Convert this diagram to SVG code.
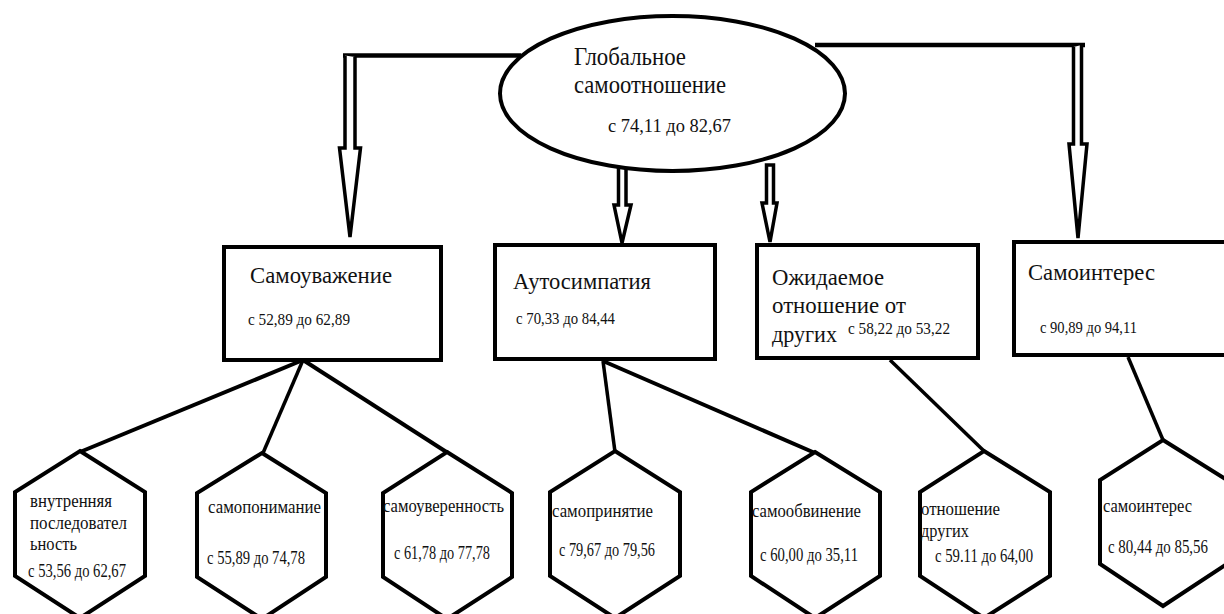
<svg xmlns="http://www.w3.org/2000/svg" width="1224" height="614" viewBox="0 0 1224 614">
<style>
.sh{fill:#fff;stroke:#000;stroke-width:4}
.ln{stroke:#000;stroke-width:3.5;fill:none}
.ar{fill:#fff;stroke:#000;stroke-width:3.5;stroke-linejoin:miter}
text{font-family:"Liberation Serif","Times New Roman",serif;fill:#111}
.t1{font-size:26px}
.t2{font-size:24px}
.t3{font-size:19px}
.n1{font-size:18.5px}
.n2{font-size:16px}
.n3{font-size:18px}
</style>
<rect width="1224" height="614" fill="#fff"/>
<g id="connectors">
<line class="ln" x1="343" y1="55.5" x2="521" y2="55.5" style="stroke-width:4.5"/>
<path class="ar" d="M345,55.5 V148 H339.5 L350,237 L360.5,148 H355 V57"/>
<line class="ln" x1="815" y1="45" x2="1085" y2="45" style="stroke-width:4.5"/>
<path class="ar" d="M1073.5,47 V144 H1069 L1078,238 L1087,144 H1081.5 V45"/>
<path class="ar" d="M618.5,166 V205 H614 L622,243 L631,205 H626 V166 Z"/>
<path class="ar" d="M766.5,165 V203 H762 L770,242 L777,203 H773.5 V165 Z"/>
<line class="ln" x1="303" y1="360" x2="80" y2="452" style="stroke-width:4"/>
<line class="ln" x1="303" y1="360" x2="263" y2="453"/>
<line class="ln" x1="303" y1="360" x2="448" y2="453" style="stroke-width:4"/>
<line class="ln" x1="603" y1="361" x2="615" y2="452"/>
<line class="ln" x1="603" y1="361" x2="815" y2="453" style="stroke-width:4"/>
<line class="ln" x1="890" y1="360" x2="984" y2="451"/>
<line class="ln" x1="1128" y1="357" x2="1163" y2="440"/>
</g>
<g id="global">
<ellipse class="sh" cx="672.5" cy="93.5" rx="172.5" ry="77.5"/>
<text class="t1" x="574" y="65" textLength="112" lengthAdjust="spacingAndGlyphs">Глобальное</text>
<text class="t1" x="574" y="93" textLength="152" lengthAdjust="spacingAndGlyphs">самоотношение</text>
<text class="n1" x="608" y="132" textLength="123" lengthAdjust="spacingAndGlyphs">с 74,11 до 82,67</text>
</g>
<g id="box-samouvazhenie">
<rect class="sh" x="224" y="247" width="217" height="113"/>
<text class="t2" x="250" y="283" textLength="142" lengthAdjust="spacingAndGlyphs">Самоуважение</text>
<text class="n2" x="248" y="325" textLength="102" lengthAdjust="spacingAndGlyphs">с 52,89 до 62,89</text>
</g>
<g id="box-autosimpatiya">
<rect class="sh" x="495" y="245" width="220" height="114"/>
<text class="t2" x="513" y="289" textLength="138" lengthAdjust="spacingAndGlyphs">Аутосимпатия</text>
<text class="n2" x="516" y="324" textLength="99" lengthAdjust="spacingAndGlyphs">с 70,33 до 84,44</text>
</g>
<g id="box-ozhidaemoe">
<rect class="sh" x="757" y="245" width="221" height="113"/>
<text class="t2" x="772" y="285" textLength="112" lengthAdjust="spacingAndGlyphs">Ожидаемое</text>
<text class="t2" x="772" y="313" textLength="134" lengthAdjust="spacingAndGlyphs">отношение от</text>
<text class="t2" x="772" y="342" textLength="65" lengthAdjust="spacingAndGlyphs">других</text>
<text class="n2" x="848" y="334" textLength="102" lengthAdjust="spacingAndGlyphs">с 58,22 до 53,22</text>
</g>
<g id="box-samointeres">
<rect class="sh" x="1014" y="242" width="220" height="113"/>
<text class="t2" x="1028" y="280" textLength="127" lengthAdjust="spacingAndGlyphs">Самоинтерес</text>
<text class="n2" x="1040" y="333" textLength="97" lengthAdjust="spacingAndGlyphs">с 90,89 до 94,11</text>
</g>
<g id="hex-posledovatelnost">
<polygon class="sh" points="80,451 145,492 145,576 80,618 15,576 15,492"/>
<text class="t3" x="30" y="507" textLength="82" lengthAdjust="spacingAndGlyphs">внутренняя</text>
<text class="t3" x="30" y="529" textLength="97" lengthAdjust="spacingAndGlyphs">последовател</text>
<text class="t3" x="30" y="550" textLength="47" lengthAdjust="spacingAndGlyphs">ьность</text>
<text class="n3" x="28" y="577" textLength="98" lengthAdjust="spacingAndGlyphs">с 53,56 до 62,67</text>
</g>
<g id="hex-samoponimanie">
<polygon class="sh" points="262,453 326,493 326,577 262,619 197,577 197,493"/>
<text class="t3" x="208" y="513" textLength="113" lengthAdjust="spacingAndGlyphs">самопонимание</text>
<text class="n3" x="207" y="564" textLength="98" lengthAdjust="spacingAndGlyphs">с 55,89 до 74,78</text>
</g>
<g id="hex-samouverennost">
<polygon class="sh" points="447,452 512,493 512,577 447,619 383,577 383,493"/>
<text class="t3" x="383" y="512" textLength="121" lengthAdjust="spacingAndGlyphs">самоуверенность</text>
<text class="n3" x="394" y="559" textLength="96" lengthAdjust="spacingAndGlyphs">с 61,78 до 77,78</text>
</g>
<g id="hex-samoprinyatie">
<polygon class="sh" points="615,451 680,492 680,576 615,618 550,576 550,492"/>
<text class="t3" x="552" y="517" textLength="101" lengthAdjust="spacingAndGlyphs">самопринятие</text>
<text class="n3" x="559" y="556" textLength="96" lengthAdjust="spacingAndGlyphs">с 79,67 до 79,56</text>
</g>
<g id="hex-samoobvinenie">
<polygon class="sh" points="815,452 880,492 880,576 815,618 751,576 751,492"/>
<text class="t3" x="752" y="517" textLength="109" lengthAdjust="spacingAndGlyphs">самообвинение</text>
<text class="n3" x="760" y="561" textLength="98" lengthAdjust="spacingAndGlyphs">с 60,00 до 35,11</text>
</g>
<g id="hex-otnoshenie">
<polygon class="sh" points="984,451 1050,492 1050,576 984,618 920,576 920,492"/>
<text class="t3" x="921" y="515" textLength="79" lengthAdjust="spacingAndGlyphs">отношение</text>
<text class="t3" x="921" y="537" textLength="48" lengthAdjust="spacingAndGlyphs">других</text>
<text class="n3" x="935" y="562" textLength="98" lengthAdjust="spacingAndGlyphs">с 59.11 до 64,00</text>
</g>
<g id="hex-samointeres">
<polygon class="sh" points="1163,440 1227,480 1227,564 1163,606 1100,564 1100,480"/>
<text class="t3" x="1103" y="512" textLength="89" lengthAdjust="spacingAndGlyphs">самоинтерес</text>
<text class="n3" x="1108" y="553" textLength="100" lengthAdjust="spacingAndGlyphs">с 80,44 до 85,56</text>
</g>
</svg>
